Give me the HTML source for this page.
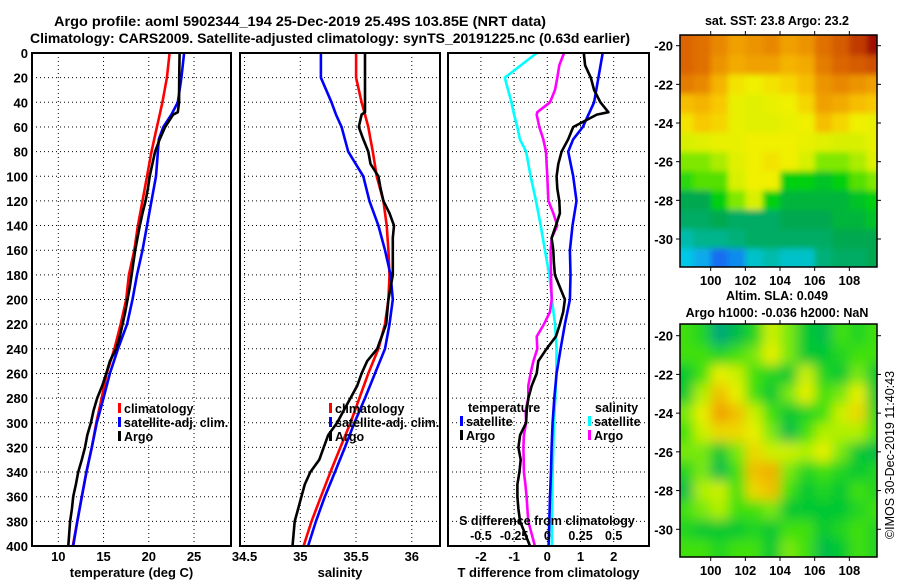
<!DOCTYPE html>
<html><head><meta charset="utf-8">
<style>
html,body{margin:0;padding:0;background:#fff;}
svg{display:block;font-family:"Liberation Sans",sans-serif;font-weight:bold;}
</style></head>
<body>
<svg id="chart" width="900" height="580" viewBox="0 0 900 580" xmlns="http://www.w3.org/2000/svg">
<defs>
<filter id="blurSst" x="-10%" y="-10%" width="120%" height="120%"><feGaussianBlur stdDeviation="3"/></filter>
<filter id="blurSla" x="-10%" y="-10%" width="120%" height="120%"><feGaussianBlur stdDeviation="6"/></filter>
</defs>
<rect width="900" height="580" fill="#fff"/>
<text x="54" y="26" font-size="14" textLength="492" lengthAdjust="spacingAndGlyphs">Argo profile: aoml 5902344_194 25-Dec-2019 25.49S 103.85E (NRT data)</text>
<text x="30" y="43" font-size="14" textLength="600" lengthAdjust="spacingAndGlyphs">Climatology: CARS2009. Satellite-adjusted climatology: synTS_20191225.nc (0.63d earlier)</text>
<g id="plots"></g>
</svg>
<script>
// ---------- DATA ----------
const depthsT = [0,20,40,50,60,70,80,100,120,140,160,180,200,220,240,260,280,300,320,340,360,380,400];
const tempClim = [22.3,22.0,21.5,21.2,20.9,20.6,20.3,19.8,19.3,18.8,18.4,17.8,17.5,16.9,16.2,15.35,14.8,14.2,13.7,13.1,12.6,12.1,11.6];
const tempSat  = [23.9,23.6,23.2,22.5,21.6,21.1,21.0,20.8,20.3,19.8,19.3,18.7,18.2,17.6,16.6,15.7,15.0,14.25,13.7,13.1,12.6,12.1,11.65];
const depthsA = [0,10,20,30,40,48,50,60,70,80,90,100,110,120,130,140,150,160,170,180,190,200,210,220,230,240,250,260,270,280,290,300,310,320,330,340,350,360,370,380,390,400];
const tempArgo = [23.4,23.38,23.36,23.35,23.35,23.2,22.7,21.8,21.2,20.7,20.4,20.1,19.9,19.65,19.3,19.0,18.75,18.5,18.3,18.1,17.9,17.65,17.4,17.1,16.8,16.4,15.7,15.3,14.85,14.3,13.9,13.6,13.2,12.95,12.6,12.2,11.95,11.65,11.5,11.3,11.2,11.1];
const salClim = [35.5,35.5,35.55,35.58,35.61,35.63,35.65,35.685,35.745,35.775,35.79,35.8,35.79,35.76,35.70,35.61,35.53,35.45,35.36,35.27,35.185,35.10,35.03];
const salSat  = [35.185,35.185,35.28,35.32,35.37,35.40,35.43,35.565,35.62,35.70,35.76,35.81,35.83,35.80,35.76,35.67,35.58,35.485,35.40,35.31,35.22,35.14,35.07];
const salArgo = [35.58,35.58,35.58,35.58,35.58,35.58,35.55,35.525,35.565,35.61,35.63,35.70,35.72,35.745,35.80,35.84,35.83,35.83,35.83,35.83,35.81,35.79,35.78,35.77,35.73,35.69,35.6,35.55,35.51,35.45,35.39,35.33,35.25,35.21,35.17,35.09,35.04,35.01,34.98,34.95,34.94,34.93];
const dTsat  = [1.67,1.54,1.41,1.24,1.07,0.78,0.63,0.78,0.88,0.76,0.68,0.70,0.68,0.53,0.40,0.28,0.21,0.16,0.13,0.11,0.08,0.06,0.04];
const dTargo = [1.1,1.14,1.31,1.41,1.6,1.84,1.49,0.78,0.63,0.43,0.33,0.28,0.30,0.36,0.38,0.26,0.13,0.18,0.2,0.23,0.38,0.53,0.48,0.38,0.26,-0.02,-0.27,-0.32,-0.47,-0.57,-0.62,-0.64,-0.82,-0.87,-0.80,-0.84,-0.9,-0.9,-0.87,-0.82,-0.67,-0.52];
const dSsat  = [-0.08,-0.32,-0.27,-0.25,-0.226,-0.206,-0.16,-0.126,-0.085,-0.05,-0.018,0.015,0.035,0.058,0.07,0.068,0.06,0.05,0.045,0.04,0.038,0.035,0.035];
const dSargo = [0.126,0.09,0.075,0.058,0.02,-0.075,-0.08,-0.06,-0.03,-0.01,-0.005,0,0.004,0.008,0.045,0.075,0.033,0.025,0.026,0.028,0.03,0.033,0.02,-0.025,-0.08,-0.075,-0.105,-0.126,-0.143,-0.143,-0.163,-0.16,-0.176,-0.18,-0.178,-0.176,-0.165,-0.156,-0.15,-0.143,-0.118,-0.093];
const depthTicks = [0,20,40,60,80,100,120,140,160,180,200,220,240,260,280,300,320,340,360,380,400];
const tempTicks = [10,15,20,25];
const salTicks = [34.5,35,35.5,36];
const dTTicks = [-2,-1,0,1,2];
const dSTicks = [-0.5,-0.25,0,0.25,0.5];
const dSTickLabels = ["-0.5","-0.25","0","0.25","0.5"];
const mapLons = [98.5,99.5,100.5,101.5,102.5,103.5,104.5,105.5,106.5,107.5,108.5,109.5];
const mapLats = [-20,-21,-22,-23,-24,-25,-26,-27,-28,-29,-30,-31];
const lonTicks = [100,102,104,106,108];
const latTicks = [-20,-22,-24,-26,-28,-30];
const sst = [
[24.5,24.4,24.2,24.0,24.1,24.2,24.0,24.1,24.4,24.6,24.8,25.0],
[24.5,24.4,24.1,23.9,24.0,24.0,23.8,23.9,24.3,24.5,24.6,24.7],
[24.3,24.2,23.8,23.4,23.3,23.4,23.5,23.7,24.1,24.2,24.1,24.0],
[23.7,23.8,23.6,23.2,23.1,23.2,23.3,23.5,24.0,23.9,23.7,23.6],
[23.4,23.6,23.5,23.2,23.1,23.1,23.2,23.3,23.7,23.5,23.3,23.2],
[23.0,23.1,23.2,23.2,23.3,23.3,23.3,23.2,23.1,23.0,23.0,23.2],
[22.8,22.8,22.9,23.1,23.3,23.4,23.3,23.0,22.8,22.8,22.9,23.1],
[22.6,22.7,22.7,23.0,23.3,23.3,22.5,22.5,22.4,22.5,22.7,22.8],
[22.2,22.2,22.5,22.8,23.0,22.5,22.3,22.3,22.3,22.3,22.4,22.5],
[22.1,22.1,22.2,22.1,22.1,22.1,22.2,22.2,22.2,22.3,22.3,22.4],
[21.8,21.9,21.9,22.0,22.1,22.1,22.1,22.1,22.1,22.2,22.2,22.2],
[21.6,21.5,21.3,21.4,21.7,21.8,21.7,21.7,22.0,22.1,22.1,22.2]];
const sla = [
[0.02,0.01,-0.03,-0.01,0.01,0.05,0.03,0.00,-0.01,0.02,0.01,0.02],
[0.02,0.02,0.01,0.02,0.03,0.06,0.03,0.00,0.00,0.01,0.02,0.02],
[0.00,0.02,0.06,0.05,0.02,0.01,0.00,0.05,0.01,0.00,0.03,0.00],
[0.00,0.04,0.08,0.06,0.02,0.00,0.03,0.06,0.02,0.03,0.06,0.00],
[0.03,0.06,0.10,0.08,0.05,0.02,0.00,0.01,0.02,0.05,0.07,0.01],
[0.02,0.05,0.07,0.07,0.06,0.03,-0.01,0.02,0.04,0.04,0.04,0.02],
[0.03,0.03,0.00,0.03,0.07,0.05,0.05,0.04,0.06,0.03,0.00,-0.01],
[0.01,0.03,-0.01,0.02,0.08,0.09,0.03,0.01,0.02,0.01,0.00,0.01],
[-0.01,0.04,0.05,0.02,0.07,0.08,0.02,0.00,0.01,0.00,0.02,0.01],
[0.02,0.03,0.04,0.02,0.02,0.03,0.00,0.00,0.00,0.00,0.01,0.02],
[0.01,0.00,0.00,0.00,0.01,0.00,0.02,0.02,0.00,0.01,0.02,0.01],
[0.02,0.02,0.01,0.02,0.02,0.00,0.03,0.02,-0.01,0.00,0.02,0.01]];

// ---------- HELPERS ----------
const NS="http://www.w3.org/2000/svg";
const root=document.getElementById('plots');
function mk(tag,attrs,parent){const e=document.createElementNS(NS,tag);for(const k in attrs)e.setAttribute(k,attrs[k]);(parent||root).appendChild(e);return e;}
function txt(x,y,s,anchor,size,parent){const t=mk('text',{x:x,y:y,'text-anchor':anchor||'middle','font-size':size||12},parent);t.textContent=s;return t;}
const TOP=53, BOT=546;
const yD=d=>TOP+d*(BOT-TOP)/400;
const xT=v=>58.3+(v-10)*9.05;
const xS=v=>300.3+(v-35)*111.5;
const xDT=v=>547.3+v*33.2;
const xDS=v=>547.3+v*132.8;

function panel(name,x0,x1,xf,ticks,tickLabels,xlabel){
  const g=mk('g',{});
  
  
  ticks.forEach(t=>{const l=mk('line',{x1:xf(t),x2:xf(t),y1:TOP,y2:BOT,stroke:'#000','stroke-width':1,'stroke-dasharray':'1 3'},g);
    });
  depthTicks.forEach(d=>{if(d===0||d===400)return;const l=mk('line',{x1:x0,x2:x1,y1:yD(d),y2:yD(d),stroke:'#000','stroke-width':1,'stroke-dasharray':'1 3'},g);
    });
  ticks.forEach((t,i)=>{const tl=txt(xf(t),561,tickLabels[i],'middle',13,g);
    });
  const xl=txt((x0+x1)/2,577,xlabel,'middle',13,g);
  
  return g;
}
function frame(name,x0,x1){const r=mk('rect',{x:x0,y:TOP,width:x1-x0,height:BOT-TOP,fill:'none',stroke:'#000','stroke-width':2});
  }
function line(name,xs,ds,xf,color,w){
  const pts=xs.map((v,i)=>xf(v).toFixed(1)+','+yD(ds[i]).toFixed(1)).join(' ');
  const p=mk('polyline',{points:pts,fill:'none',stroke:color,'stroke-width':w||2.6,'stroke-linejoin':'round'});
  
}
function legend(name,x,y,color,label){
  const g=mk('g',{});
  
  mk('rect',{x:x,y:y-10,width:3,height:10,fill:color},g);
  txt(x+6,y,label,'start',12.5,g);
}

// ---------- PANEL 1 temperature ----------
panel('temperature-panel',32,231,xT,tempTicks,tempTicks.map(String),'temperature (deg C)');
depthTicks.forEach(d=>{const t=txt(28,yD(d)+5,String(d),'end',13);
  });
line('temp-climatology-line',tempClim,depthsT,xT,'#f00');
line('temp-satellite-line',tempSat,depthsT,xT,'#00f');
line('temp-argo-line',tempArgo,depthsA,xT,'#000');
frame('temperature-frame',32,231);
legend('legend-climatology',118,413,'#f00','climatology');
legend('legend-satellite-adj',118,427,'#00f','satellite-adj. clim.');
legend('legend-argo',118,441,'#000','Argo');

// ---------- PANEL 2 salinity ----------
panel('salinity-panel',240,440,xS,salTicks,["34.5","35","35.5","36"],'salinity');
line('sal-climatology-line',salClim,depthsT,xS,'#f00');
line('sal-satellite-line',salSat,depthsT,xS,'#00f');
line('sal-argo-line',salArgo,depthsA,xS,'#000');
frame('salinity-frame',240,440);
legend('legend-sal-climatology',329,413,'#f00','climatology');
legend('legend-sal-satellite-adj',329,427,'#00f','satellite-adj. clim.');
legend('legend-sal-argo',329,441,'#000','Argo');

// ---------- PANEL 3 differences ----------
panel('difference-panel',448,649,xDT,dTTicks,dTTicks.map(String),'T difference from climatology');
line('dS-satellite-line',dSsat,depthsT,xDS,'#0ff');
line('dS-argo-line',dSargo,depthsA,xDS,'#f0f');
line('dT-satellite-line',dTsat,depthsT,xDT,'#00f');
line('dT-argo-line',dTargo,depthsA,xDT,'#000');
frame('difference-frame',448,649);
const tt=txt(468,412,'temperature','start',12.5);
legend('legend-t-satellite',460,426,'#00f','satellite');
legend('legend-t-argo',460,440,'#000','Argo');
const st=txt(595,412,'salinity','start',12.5);
legend('legend-s-satellite',588,426,'#0ff','satellite');
legend('legend-s-argo',588,440,'#f0f','Argo');
const sdl=txt(547,525,'S difference from climatology','middle',12.5);
dSTicks.forEach((t,i)=>{const l=txt(xDS(t),540,dSTickLabels[i],'middle',12.5);});

// ---------- MAPS ----------
function rgb(c){return 'rgb('+c.map(Math.round).join(',')+')';}
function lerpColor(stops,v){
  if(v<=stops[0][0])return rgb(stops[0][1]);
  for(let i=1;i<stops.length;i++){if(v<=stops[i][0]){const a=stops[i-1],b=stops[i];const f=(v-a[0])/(b[0]-a[0]);
    return rgb(a[1].map((c,j)=>c+(b[1][j]-c)*f));}}
  return rgb(stops[stops.length-1][1]);
}
const sstStops=[[21.3,[20,110,240]],[21.6,[0,200,232]],[21.9,[0,180,140]],[22.2,[0,168,80]],[22.5,[0,208,16]],[22.8,[128,232,0]],[23.0,[216,240,0]],[23.3,[240,240,0]],[23.6,[248,200,0]],[24.0,[240,160,0]],[24.4,[224,112,0]],[24.7,[208,80,0]],[25.0,[160,16,0]]];
const slaStops=[[-0.03,[0,168,120]],[0,[0,200,48]],[0.02,[64,224,16]],[0.04,[176,240,0]],[0.06,[232,240,0]],[0.08,[240,192,0]],[0.10,[240,160,0]]];
function drawMap(name,grid,stops,mx0,mx1,my0,my1,latY20,latY30,title,titleY,filt){
  const xL=v=>710.7+(v-100)*17.33;
  const yL=v=>latY20+(v+20)*(latY20-latY30)/10;
  const g=mk('g',{});
  
  const cid='clip-'+name;
  const cp=mk('clipPath',{id:cid},g);mk('rect',{x:mx0,y:my0,width:mx1-mx0,height:my1-my0},cp);
  const cg=mk('g',{'clip-path':'url(#'+cid+')'},g);
  const bg=mk('g',{filter:'url(#'+filt+')'},cg);
  const nR=mapLats.length,nC=mapLons.length;
  mapLats.forEach((la,r)=>mapLons.forEach((lo,c)=>{
    const lo0=lo-0.5-(c===0?1.5:0), lo1=lo+0.5+(c===nC-1?1.5:0);
    const la0=la+0.5+(r===0?1.5:0), la1=la-0.5-(r===nR-1?1.5:0);
    const x=xL(lo0),y=yL(la0);
    const cell=mk('rect',{x:x.toFixed(1),y:y.toFixed(1),width:(xL(lo1)-x+0.6).toFixed(1),height:(yL(la1)-y+0.6).toFixed(1),fill:lerpColor(stops,grid[r][c])},bg);
    
  }));
  const fr=mk('rect',{x:mx0,y:my0,width:mx1-mx0,height:my1-my0,fill:'none',stroke:'#000','stroke-width':1.5},g);
  
  lonTicks.forEach(l=>{mk('line',{x1:xL(l),x2:xL(l),y1:my0,y2:my0-4,stroke:'#000'},g);mk('line',{x1:xL(l),x2:xL(l),y1:my1,y2:my1+4,stroke:'#000'},g);
    const t=txt(xL(l),my1+18,String(l),'middle',13,g);});
  latTicks.forEach(l=>{mk('line',{x1:mx0,x2:mx0-4,y1:yL(l),y2:yL(l),stroke:'#000'},g);mk('line',{x1:mx1,x2:mx1+4,y1:yL(l),y2:yL(l),stroke:'#000'},g);
    const t=txt(673,yL(l)+5,String(l),'end',13,g);});
  title.forEach((s,i)=>{const t=txt(777,titleY+i*17,s,'middle',12.5,g);});
}
drawMap('sst-map',sst,sstStops,680,877,35,267,45.7,239,['sat. SST: 23.8 Argo: 23.2'],25,'blurSst');
drawMap('sla-map',sla,slaStops,680,877,324,557,335.7,529.3,['Altim. SLA: 0.049','Argo h1000: -0.036 h2000: NaN'],300,'blurSla');
const cr=txt(0,0,'\u00A9IMOS 30-Dec-2019 11:40:43','middle',12.5);
cr.setAttribute('transform','translate(894,455) rotate(-90)');
cr.setAttribute('font-weight','normal');

</script>
</body></html>
